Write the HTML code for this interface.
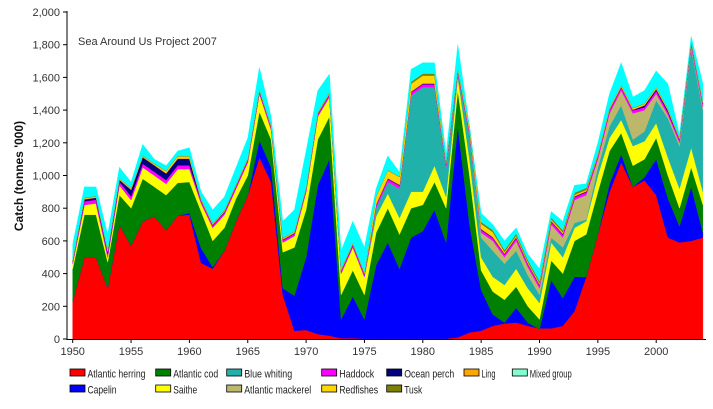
<!DOCTYPE html>
<html><head><meta charset="utf-8"><style>
body{margin:0;background:#fff;font-family:"Liberation Sans",Arial,sans-serif}
</style></head><body>
<svg id="s" width="713" height="409" xmlns="http://www.w3.org/2000/svg" style="display:block">
<g id="areas"></g>
<g font-family="Liberation Sans, Arial, sans-serif" font-size="11" fill="#333">
<text x="78" y="45" font-size="11">Sea Around Us Project 2007</text>
<text transform="translate(23,176) rotate(-90)" text-anchor="middle" font-weight="bold" font-size="12" fill="#111">Catch (tonnes '000)</text>
</g>
<g id="axes" font-family="Liberation Sans, Arial, sans-serif" font-size="11" fill="#333"></g>
<g id="leg" font-family="Liberation Sans, Arial, sans-serif" font-size="11" fill="#222"></g>
</svg>
<script>
var Y0=1950;
function X(y){return 72.7+11.67*(y-Y0);}
function V(v){return 339-v*0.1635;}
var her=[230,500,500,310,700,570,720,750,665,755,760,465,430,540,720,880,1110,960,270,50,55,30,20,5,5,2,2,2,2,2,2,2,2,10,40,50,80,95,100,80,65,65,80,170,380,640,900,1080,930,970,880,620,590,600,620];
var cap=[230,500,500,310,700,570,720,750,665,755,770,555,440,540,720,880,1215,1050,310,265,500,940,1100,120,260,120,450,590,430,620,660,790,590,1300,700,300,150,100,190,100,60,360,250,380,380,640,950,1130,930,990,1100,860,690,930,650];
var cod=[430,760,760,470,880,800,980,930,880,955,960,780,600,680,860,1000,1390,1220,530,560,790,1220,1360,270,420,270,650,800,640,800,820,960,800,1520,1000,420,290,240,320,200,120,480,400,600,640,900,1150,1260,1060,1100,1230,1000,800,1050,820];
var sai=[460,820,830,500,940,850,1050,1000,950,1040,1040,830,680,760,920,1080,1500,1280,590,630,900,1360,1480,400,560,380,750,890,740,900,900,1060,870,1600,1100,500,380,330,430,310,220,590,500,680,720,1000,1230,1340,1180,1210,1320,1110,920,1170,900];
var bw=sai.slice();
var bwv={1976:800,1977:960,1978:920,1979:1490,1980:1540,1981:1540,1982:1050,1983:1620,1984:1250,1985:620,1986:540,1987:460,1988:540,1989:390,1990:270,1991:620,1992:560,1993:710,1994:730,1995:1050,1996:1300,1997:1430,1998:1220,1999:1270,2000:1460,2001:1350,2002:1180,2003:1780,2004:1400};
for(var k in bwv)bw[k-Y0]=bwv[k];
var mk=bw.slice();
var mkv={1985:650,1986:600,1987:500,1988:600,1989:440,1990:310,1991:700,1992:620,1993:850,1994:880,1995:1100,1996:1380,1997:1520,1998:1380,1999:1400,2000:1500,2001:1370,2002:1200,2003:1790,2004:1420};
for(var k in mkv)mk[k-Y0]=mkv[k];
var tot=[580,930,930,640,1050,960,1190,1100,1060,1150,1170,900,790,870,1050,1230,1660,1360,720,790,1150,1520,1620,540,720,560,920,1120,1020,1650,1690,1690,1130,1800,1300,770,700,600,680,520,430,780,720,940,950,1200,1500,1690,1480,1520,1640,1560,1250,1850,1560];
var n=tot.length,had=[],per=[],ling=[],red=[],tusk=[];
for(var i=0;i<n;i++){var y=Y0+i;
 had[i]=Math.min(tot[i],mk[i]+((y>=1951&&y<=1960)?22:(y>=1976?18:14)));
 per[i]=Math.min(tot[i],had[i]+((y>=1955&&y<=1960)?40:(y>=1951&&y<=1954?12:(y>=1999&&y<=2001?10:4))));
 ling[i]=Math.min(tot[i],per[i]+4);
 red[i]=Math.min(tot[i],ling[i]+((y>=1976&&y<=1981)?45:(y>=1984&&y<=1986?28:(y>=1983?6:(y>=1958&&y<=1960?10:4)))));
 tusk[i]=Math.min(tot[i],red[i]+((y>=1979&&y<=1981)||(y>=1985&&y<=1994)?12:3));
}
var zero=tot.map(function(){return 0;});
var layers=[[zero,her,'#ff0000'],[her,cap,'#0000ff'],[cap,cod,'#008000'],[cod,sai,'#ffff00'],[sai,bw,'#20b2aa'],[bw,mk,'#bdb76b'],[mk,had,'#ff00ff'],[had,per,'#000080'],[per,ling,'#ffa500'],[ling,red,'#ffd700'],[red,tusk,'#808000'],[tusk,tot,'#00ffff']];
var g=document.getElementById('areas'),h='';
layers.forEach(function(L){var p=[];for(var i=0;i<n;i++)p.push(X(Y0+i).toFixed(1)+','+V(L[1][i]).toFixed(1));for(var i=n-1;i>=0;i--)p.push(X(Y0+i).toFixed(1)+','+V(L[0][i]).toFixed(1));h+='<polygon points="'+p.join(' ')+'" fill="'+L[2]+'" stroke="'+L[2]+'" stroke-width="0.4"/>';});
g.innerHTML=h;
var a='<line x1="67" y1="11" x2="67" y2="340" stroke="#000" stroke-width="1"/><line x1="67" y1="339.5" x2="706" y2="339.5" stroke="#000" stroke-width="1"/>';
for(var v=0;v<=2000;v+=200){var yy=V(v);a+='<line x1="63" y1="'+yy+'" x2="67" y2="'+yy+'" stroke="#000"/>';a+='<text x="60" y="'+(yy+4)+'" text-anchor="end">'+(v>=1000?(Math.floor(v/1000)+','+('00'+(v%1000)).slice(-3)):v)+'</text>';}
for(var y=1950;y<=2000;y+=5){var xx=X(y);a+='<line x1="'+xx+'" y1="339" x2="'+xx+'" y2="343" stroke="#000"/><text x="'+xx+'" y="355" text-anchor="middle">'+y+'</text>';}
document.getElementById('axes').innerHTML=a;
var leg=[[70,369,'#ff0000','Atlantic herring',58],[155.7,369,'#008000','Atlantic cod',45],[226.7,369,'#20b2aa','Blue whiting',48],[321.7,369,'#ff00ff','Haddock',35],[386.7,369,'#000080','Ocean perch',50],[464,369,'#ffa500','Ling',14],[512.3,369,'#80ffd0','Mixed group',42],[70,385,'#0000ff','Capelin',29],[155.7,385,'#ffff00','Saithe',24],[226.7,385,'#bdb76b','Atlantic mackerel',67],[321.7,385,'#ffd700','Redfishes',39],[386.7,385,'#808000','Tusk',18]];
var l='';leg.forEach(function(e){l+='<rect x="'+e[0]+'" y="'+e[1]+'" width="15" height="7" fill="'+e[2]+'" stroke="#000" stroke-width="0.8"/><text x="'+(e[0]+17.5)+'" y="'+(e[1]+8.5)+'" textLength="'+e[4]+'" lengthAdjust="spacingAndGlyphs">'+e[3]+'</text>';});
document.getElementById('leg').innerHTML=l;
</script>
</body></html>
